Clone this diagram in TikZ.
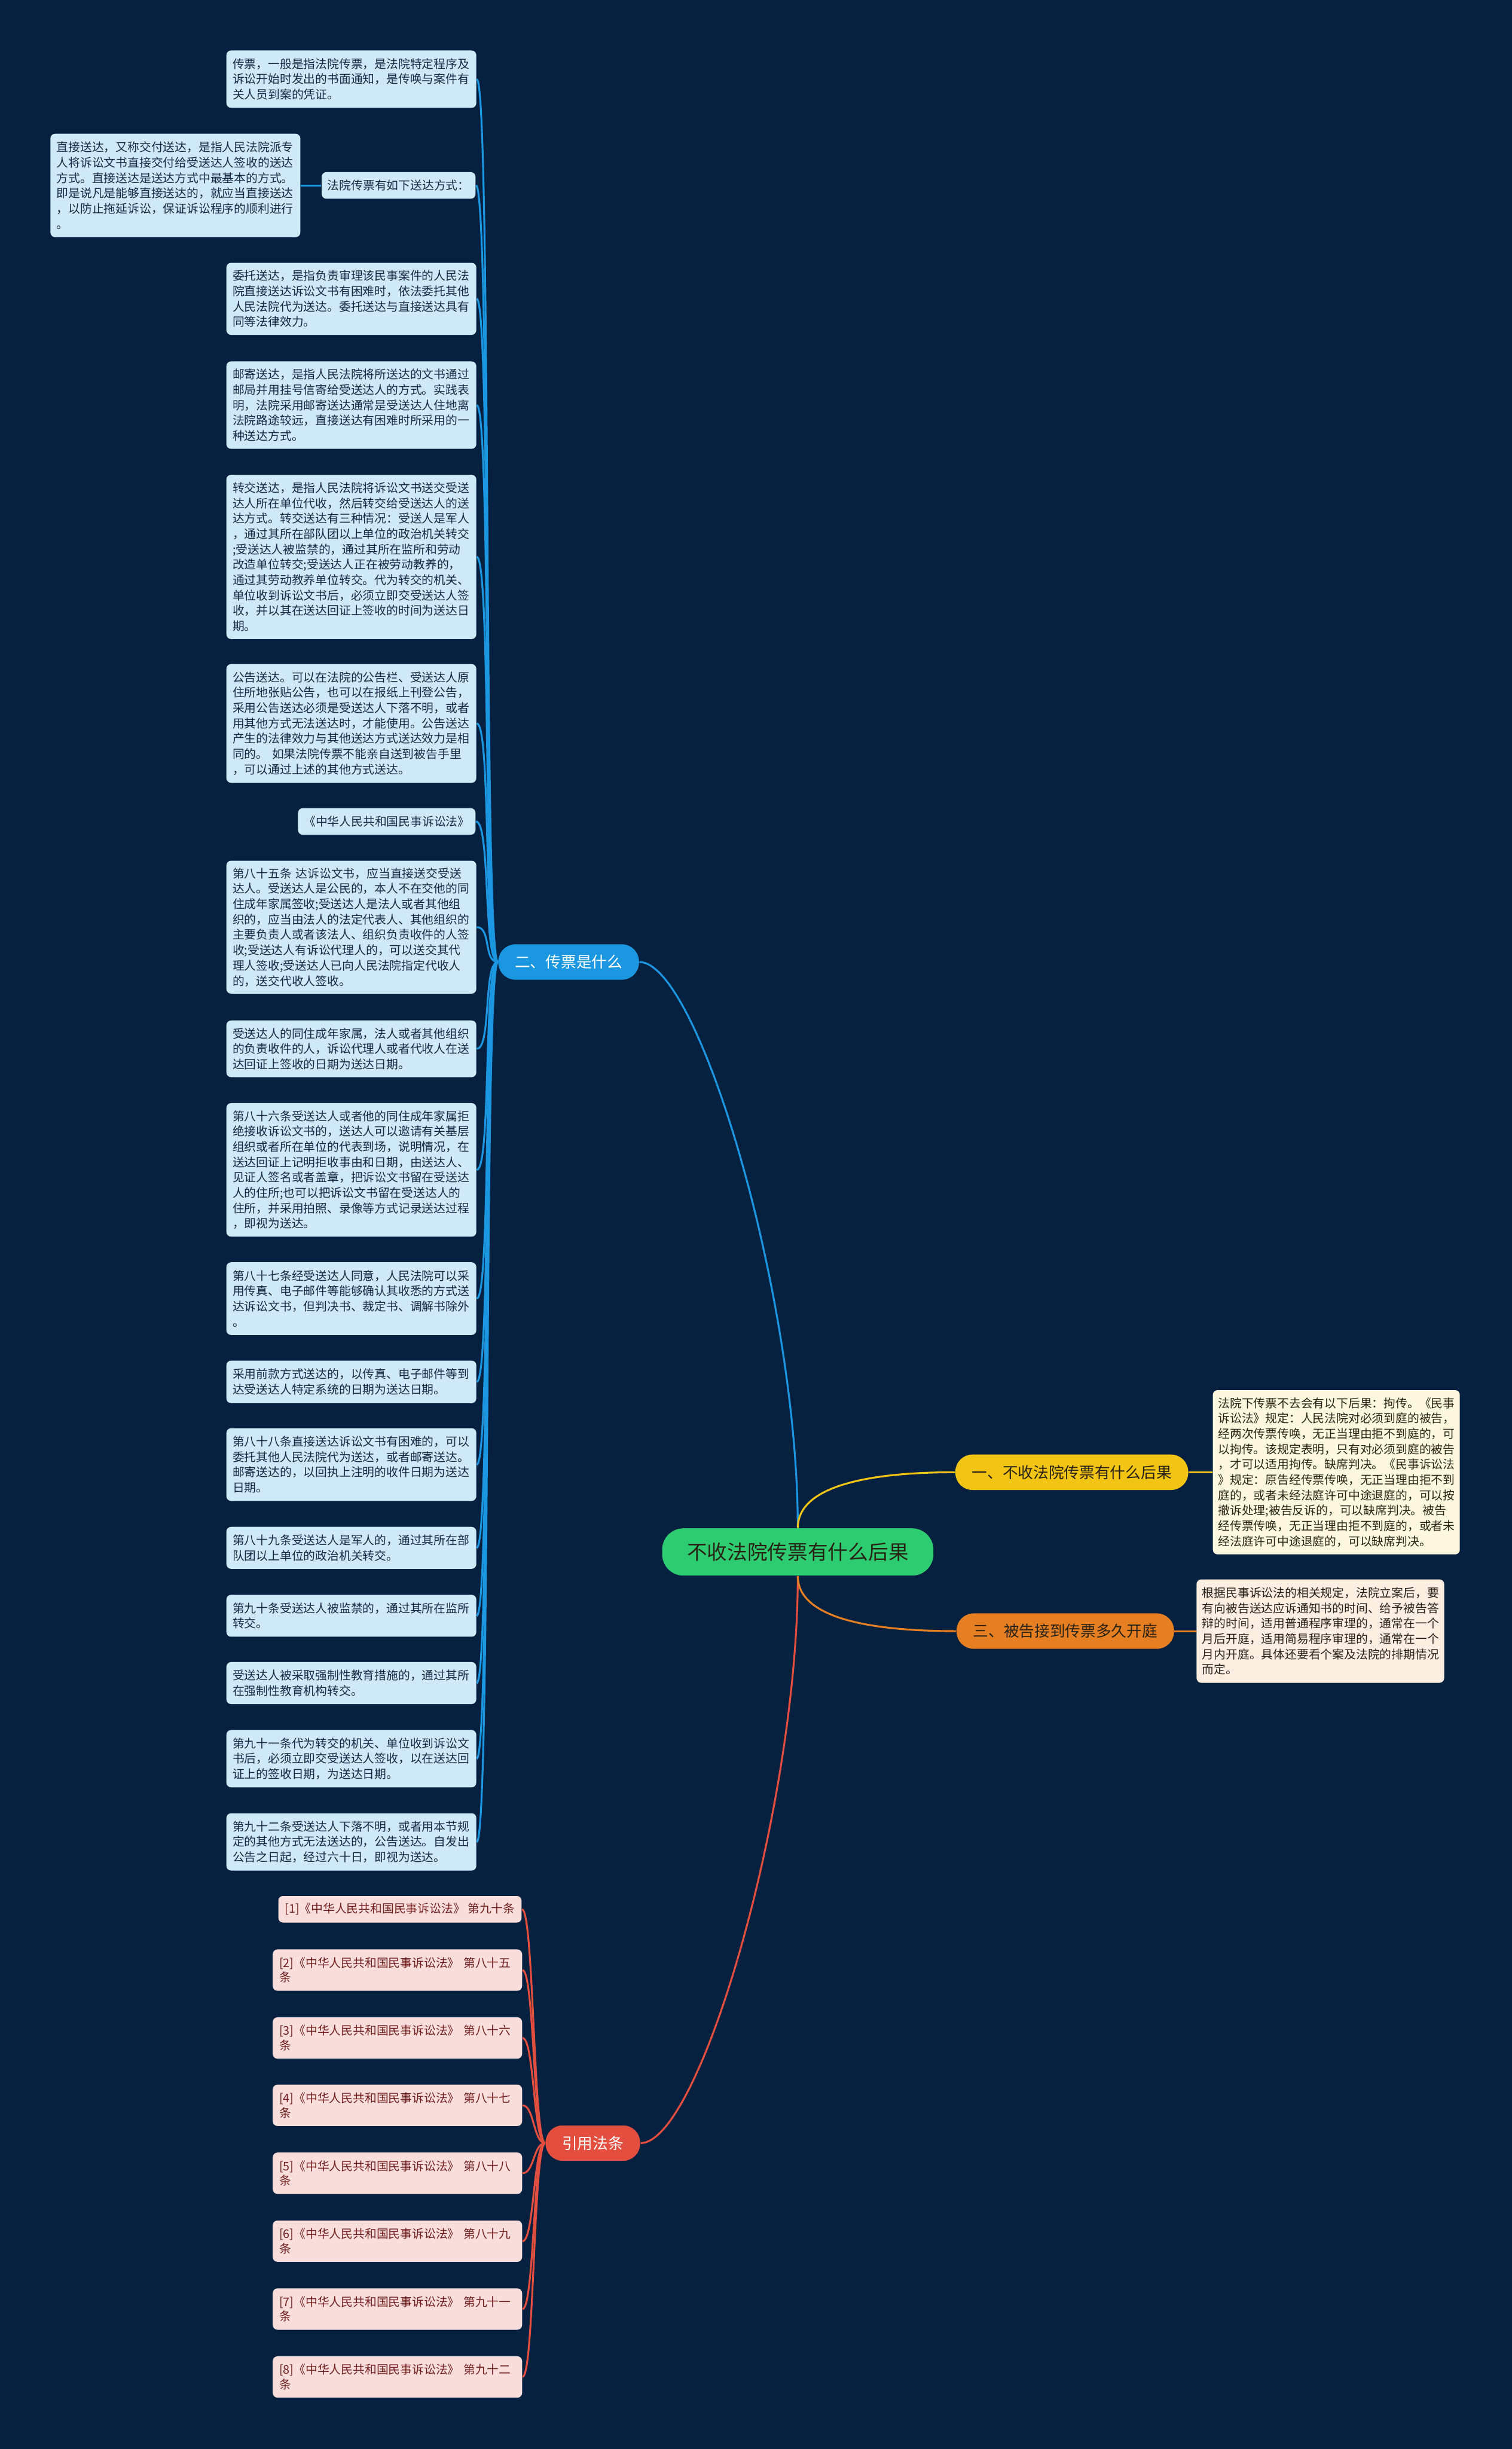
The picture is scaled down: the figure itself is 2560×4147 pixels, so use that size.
\documentclass[tikz,border=0pt]{standalone}
\usepackage{fontspec}
\setmainfont{Noto Sans CJK SC}
\definecolor{TreeNight}{RGB}{6,33,64}
\definecolor{TreeBlue}{RGB}{27,150,224}
\definecolor{TreeLeaf}{RGB}{206,233,247}
\definecolor{TreeInk}{RGB}{22,40,66}
\definecolor{TreeInkDark}{RGB}{40,34,20}
\definecolor{TreeGreen}{RGB}{46,204,113}
\definecolor{TreeYellow}{RGB}{242,196,20}
\definecolor{TreeOrange}{RGB}{230,126,34}
\definecolor{TreeRed}{RGB}{228,78,62}
\definecolor{TreePink}{RGB}{250,222,220}
\definecolor{TreeWine}{RGB}{112,30,30}
\definecolor{TreeCream}{RGB}{254,249,222}
\definecolor{TreePeach}{RGB}{252,238,225}
\usepackage{tikz}
\tikzset{
    leaf/.style={rectangle, rounded corners=0.08cm, fill=TreeLeaf, text=TreeInk,
        font=\fontsize{5.7}{7.4}\selectfont, text width=4.02cm, align=left,
        inner xsep=0.105cm, inner ysep=0pt},
    note/.style={leaf, text=TreeInkDark},
    refbox/.style={rectangle, rounded corners=0.08cm, fill=TreePink, text=TreeWine,
        font=\fontsize{5.7}{7.1}\selectfont, align=left, inner xsep=0.11cm,
        inner ysep=0pt, minimum height=0.7cm},
    branch/.style={rectangle, rounded corners=0.29cm, minimum height=0.6cm,
        inner xsep=0.28cm, inner ysep=0pt, font=\fontsize{7.4}{9}\selectfont},
    root/.style={rectangle, rounded corners=0.36cm, fill=TreeGreen, text=TreeInkDark,
        minimum height=0.8cm, inner xsep=0.42cm, font=\fontsize{9.7}{12}\selectfont},
    bluelink/.style={draw=TreeBlue, line width=0.9pt},
    redlink/.style={draw=TreeRed, line width=0.9pt},
}

\begin{document}
\begin{tikzpicture}[x=0.01cm, y=-0.01cm]
        \fill[TreeNight] (0,0) rectangle (2560,4147);
        \useasboundingbox (0,0) rectangle (2560,4147);

        \node[root] (root) at (1351,2628) {不收法院传票有什么后果};
        \node[branch, fill=TreeYellow, text=TreeInkDark] (yi) at (1815,2493) {一、不收法院传票有什么后果};
        \node[branch, fill=TreeOrange, text=TreeInkDark] (san) at (1804,2762) {三、被告接到传票多久开庭};
        \node[branch, fill=TreeBlue, text=white] (er) at (963,1629) {二、传票是什么};
        \node[branch, fill=TreeRed, text=white] (yin) at (1004,3629) {引用法条};

        \node[note, fill=TreeCream, text width=4.0cm, inner xsep=0.09cm, minimum height=2.78cm] (houguo) at (2263,2493) {法院下传票不去会有以下后果：拘传。《民事\\诉讼法》规定：人民法院对必须到庭的被告，\\经两次传票传唤，无正当理由拒不到庭的，可\\以拘传。该规定表明，只有对必须到庭的被告\\，才可以适用拘传。缺席判决。《民事诉讼法\\》规定：原告经传票传唤，无正当理由拒不到\\庭的，或者未经法庭许可中途退庭的，可以按\\撤诉处理;被告反诉的，可以缺席判决。被告\\经传票传唤，无正当理由拒不到庭的，或者未\\经法庭许可中途退庭的，可以缺席判决。};
        \node[note, fill=TreePeach, text width=4.0cm, inner xsep=0.095cm, minimum height=1.75cm] (kaiting) at (2236,2762) {根据民事诉讼法的相关规定，法院立案后，要\\有向被告送达应诉通知书的时间、给予被告答\\辩的时间，适用普通程序审理的，通常在一个\\月后开庭，适用简易程序审理的，通常在一个\\月内开庭。具体还要看个案及法院的排期情况\\而定。};

        \node[leaf, minimum height=0.97cm] (chuanpiao) at (595,134) {传票，一般是指法院传票，是法院特定程序及\\诉讼开始时发出的书面通知，是传唤与案件有\\关人员到案的凭证。};
        \node[leaf, text width=, inner xsep=0.1cm, minimum height=0.45cm, anchor=east] (fangshi) at (806,314) {法院传票有如下送达方式：};
        \node[leaf, minimum height=1.75cm] (zhijie) at (297,314) {直接送达，又称交付送达，是指人民法院派专\\人将诉讼文书直接交付给受送达人签收的送达\\方式。直接送达是送达方式中最基本的方式。\\即是说凡是能够直接送达的，就应当直接送达\\，以防止拖延诉讼，保证诉讼程序的顺利进行\\。};
        \node[leaf, minimum height=1.22cm] (weituo) at (595,506) {委托送达，是指负责审理该民事案件的人民法\\院直接送达诉讼文书有困难时，依法委托其他\\人民法院代为送达。委托送达与直接送达具有\\同等法律效力。};
        \node[leaf, minimum height=1.48cm] (youji) at (595,686) {邮寄送达，是指人民法院将所送达的文书通过\\邮局并用挂号信寄给受送达人的方式。实践表\\明，法院采用邮寄送达通常是受送达人住地离\\法院路途较远，直接送达有困难时所采用的一\\种送达方式。};
        \node[leaf, minimum height=2.78cm] (zhuanjiao) at (595,943) {转交送达，是指人民法院将诉讼文书送交受送\\达人所在单位代收，然后转交给受送达人的送\\达方式。转交送达有三种情况：受送人是军人\\，通过其所在部队团以上单位的政治机关转交\\;受送达人被监禁的，通过其所在监所和劳动\\改造单位转交;受送达人正在被劳动教养的，\\通过其劳动教养单位转交。代为转交的机关、\\单位收到诉讼文书后，必须立即交受送达人签\\收，并以其在送达回证上签收的时间为送达日\\期。};
        \node[leaf, minimum height=2.01cm] (gonggao) at (595,1225) {公告送达。可以在法院的公告栏、受送达人原\\住所地张贴公告，也可以在报纸上刊登公告，\\采用公告送达必须是受送达人下落不明，或者\\用其他方式无法送达时，才能使用。公告送达\\产生的法律效力与其他送达方式送达效力是相\\同的。 如果法院传票不能亲自送到被告手里\\，可以通过上述的其他方式送达。};
        \node[leaf, text width=, inner xsep=0.1cm, minimum height=0.45cm, anchor=east] (fadian) at (806,1391) {《中华人民共和国民事诉讼法》};
        \node[leaf, minimum height=2.25cm] (tiao85) at (595,1570) {第八十五条~达诉讼文书，应当直接送交受送\\达人。受送达人是公民的，本人不在交他的同\\住成年家属签收;受送达人是法人或者其他组\\织的，应当由法人的法定代表人、其他组织的\\主要负责人或者该法人、组织负责收件的人签\\收;受送达人有诉讼代理人的，可以送交其代\\理人签收;受送达人已向人民法院指定代收人\\的，送交代收人签收。};
        \node[leaf, minimum height=0.96cm] (tongzhu) at (595,1776) {受送达人的同住成年家属，法人或者其他组织\\的负责收件的人，诉讼代理人或者代收人在送\\达回证上签收的日期为送达日期。};
        \node[leaf, minimum height=2.26cm] (tiao86) at (595,1981) {第八十六条受送达人或者他的同住成年家属拒\\绝接收诉讼文书的，送达人可以邀请有关基层\\组织或者所在单位的代表到场，说明情况，在\\送达回证上记明拒收事由和日期，由送达人、\\见证人签名或者盖章，把诉讼文书留在受送达\\人的住所;也可以把诉讼文书留在受送达人的\\住所，并采用拍照、录像等方式记录送达过程\\，即视为送达。};
        \node[leaf, minimum height=1.23cm] (tiao87) at (595,2199) {第八十七条经受送达人同意，人民法院可以采\\用传真、电子邮件等能够确认其收悉的方式送\\达诉讼文书，但判决书、裁定书、调解书除外\\。};
        \node[leaf, minimum height=0.72cm] (qiankuan) at (595,2340) {采用前款方式送达的，以传真、电子邮件等到\\达受送达人特定系统的日期为送达日期。};
        \node[leaf, minimum height=1.23cm] (tiao88) at (595,2480) {第八十八条直接送达诉讼文书有困难的，可以\\委托其他人民法院代为送达，或者邮寄送达。\\邮寄送达的，以回执上注明的收件日期为送达\\日期。};
        \node[leaf, minimum height=0.71cm] (tiao89) at (595,2621) {第八十九条受送达人是军人的，通过其所在部\\队团以上单位的政治机关转交。};
        \node[leaf, minimum height=0.71cm] (tiao90) at (595,2736) {第九十条受送达人被监禁的，通过其所在监所\\转交。};
        \node[leaf, minimum height=0.71cm] (jiaoyu) at (595,2850) {受送达人被采取强制性教育措施的，通过其所\\在强制性教育机构转交。};
        \node[leaf, minimum height=0.97cm] (tiao91) at (595,2978) {第九十一条代为转交的机关、单位收到诉讼文\\书后，必须立即交受送达人签收，以在送达回\\证上的签收日期，为送达日期。};
        \node[leaf, minimum height=0.97cm] (tiao92) at (595,3119) {第九十二条受送达人下落不明，或者用本节规\\定的其他方式无法送达的，公告送达。自发出\\公告之日起，经过六十日，即视为送达。};

        \node[refbox, anchor=east, minimum height=0.45cm] (ref1) at (884,3233) {[1]《中华人民共和国民事诉讼法》 第九十条};
        \foreach \i/\y/\num in {2/3336/八十五, 3/3451/八十六, 4/3565/八十七, 5/3680/八十八, 6/3795/八十九, 7/3910/九十一, 8/4025/九十二}
            \node[refbox, text width=4.0cm] (ref\i) at (673,\y) {[\i]《中华人民共和国民事诉讼法》 第\num\\条};

        \draw[bluelink] (root.north) .. controls +(0,-390) and +(100,0) .. (er.east);
        \draw[redlink] (root.south) .. controls +(0,390) and +(100,0) .. (yin.east);
        \draw[draw=TreeYellow, line width=0.9pt] (root.north) .. controls +(0,-70) and +(-150,0) .. (yi.west);
        \draw[draw=TreeOrange, line width=0.9pt] (root.south) .. controls +(0,70) and +(-150,0) .. (san.west);
        \draw[draw=TreeYellow, line width=0.9pt] (yi.east) -- (houguo.west);
        \draw[draw=TreeOrange, line width=0.9pt] (san.east) -- (kaiting.west);
        \draw[bluelink] (fangshi.west) -- (zhijie.east);
        \foreach \n in {chuanpiao, fangshi, weituo, youji, zhuanjiao, gonggao, fadian, tiao85, tongzhu, tiao86, tiao87, qiankuan, tiao88, tiao89, tiao90, jiaoyu, tiao91, tiao92}
            \draw[bluelink] (er.west) .. controls +(-25,0) and +(25,0) .. (\n.east);
        \foreach \i in {1,...,8}
            \draw[redlink] (yin.west) .. controls +(-20,0) and +(20,0) .. (ref\i.east);
    \end{tikzpicture}
\end{document}
